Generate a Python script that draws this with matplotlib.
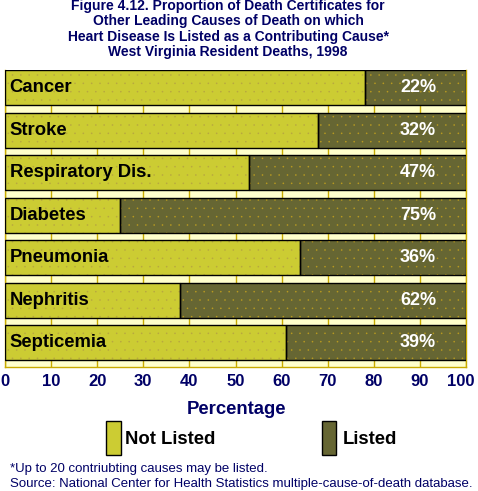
import matplotlib.pyplot as plt
import matplotlib.transforms as mtransforms
from matplotlib.patches import Rectangle

plt.rcParams['font.family'] = ['Liberation Sans', 'DejaVu Sans']
plt.rcParams['hatch.linewidth'] = 0.0

# data
causes = ['Cancer', 'Stroke', 'Respiratory Dis.', 'Diabetes', 'Pneumonia', 'Nephritis', 'Septicemia']
listed = [22, 32, 47, 75, 36, 62, 39]
not_listed = [100 - v for v in listed]
ticks = [0, 10, 20, 30, 40, 50, 60, 70, 80, 90, 100]

navy = '#000066'
c_not = '#CCCC33'
c_list = '#666633'
bg = '#FFFFCC'
grid_c = '#C8AA00'

W, H = 478, 491
fig = plt.figure(figsize=(W / 100, H / 100), dpi=100)
fig.patch.set_facecolor('white')

def fx(px):
    return px / W

def fy(py):
    return 1 - py / H

ax = fig.add_axes([fx(5), fy(367), fx(466) - fx(5), fy(70) - fy(367)])
ax.set_facecolor(bg)

pos = list(range(len(causes)))
bh = 0.824

# filled bars with dotted pattern
ax.barh(pos, not_listed, height=bh, color=c_not, edgecolor='#B8A840', hatch='..', linewidth=0, zorder=3)
ax.barh(pos, listed, left=not_listed, height=bh, color=c_list, edgecolor='#B89A20', hatch='..', linewidth=0, zorder=3)
# black outlines
ax.barh(pos, not_listed, height=bh, fill=False, edgecolor='black', linewidth=1, zorder=4)
ax.barh(pos, listed, left=not_listed, height=bh, fill=False, edgecolor='black', linewidth=1, zorder=4)

for i, name in enumerate(causes):
    ax.text(1.0, i, name, ha='left', va='center', fontsize=13.3, fontweight='bold', color='black', zorder=5)
    ax.text(89.6, i, f'{listed[i]}%', ha='center', va='center', fontsize=13, fontweight='bold', color='white', zorder=5)

ax.set_xlim(0, 100)
ax.set_ylim(6.576, -0.412)
ax.set_yticks([])
ax.set_xticks(ticks)
ax.set_xticklabels([str(t) for t in ticks], fontsize=12, fontweight='bold', color=navy)
ax.tick_params(axis='x', length=0, pad=5)
# last label sits a little left of its tick, as in the original
last = ax.get_xticklabels()[-1]
last.set_transform(last.get_transform() + mtransforms.ScaledTranslation(-5 / 100, 0, fig.dpi_scale_trans))
ax.xaxis.grid(True, color=grid_c, linewidth=1, zorder=1)
ax.set_axisbelow(True)
for s in ax.spines.values():
    s.set_color(grid_c)
    s.set_linewidth(1)
ax.spines['top'].set_visible(False)

# title
fig.text(fx(228), fy(29), 'Figure 4.12. Proportion of Death Certificates for\n'
         'Other Leading Causes of Death on which\n'
         'Heart Disease Is Listed as a Contributing Cause*\n'
         'West Virginia Resident Deaths, 1998',
         ha='center', va='center', fontsize=10, fontweight='bold', color=navy, linespacing=1.1)

# axis label
fig.text(fx(237), fy(410), 'Percentage', ha='center', va='center', fontsize=13.3, fontweight='bold', color=navy)

# legend
fig.patches.append(Rectangle((fx(106), fy(455)), fx(15), fy(421) - fy(455), transform=fig.transFigure,
                             facecolor=c_not, edgecolor='black', linewidth=1))
fig.text(fx(125), fy(439), 'Not Listed', ha='left', va='center', fontsize=13.3, fontweight='bold', color='black')
fig.patches.append(Rectangle((fx(322), fy(455)), fx(14), fy(421) - fy(455), transform=fig.transFigure,
                             facecolor=c_list, edgecolor='black', linewidth=1))
fig.text(fx(343), fy(439), 'Listed', ha='left', va='center', fontsize=13.3, fontweight='bold', color='black')

# footnotes
fig.text(fx(10), fy(469), '*Up to 20 contriubting causes may be listed.', ha='left', va='center', fontsize=9.5, color=navy)
fig.text(fx(10), fy(484), 'Source: National Center for Health Statistics multiple-cause-of-death database.',
         ha='left', va='center', fontsize=9.5, color=navy)

fig.savefig('out.png', dpi=100)
